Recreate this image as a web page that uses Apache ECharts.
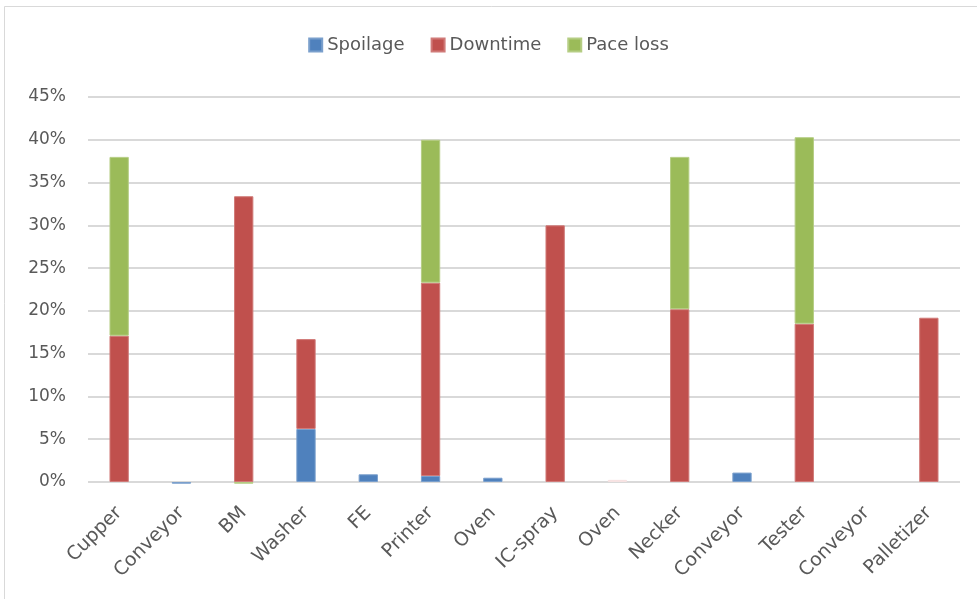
<!DOCTYPE html>
<html>
<head>
<meta charset="utf-8">
<script src="https://cdn.jsdelivr.net/npm/echarts@6/dist/echarts.min.js"></script>
<style>
  html, body { margin: 0; padding: 0; background: #fff; }
  #chart { width: 977px; height: 599px; }
</style>
</head>
<body>
<div id="chart"></div>
<script>
// machines along the line
const categories = ["Cupper", "Conveyor", "BM", "Washer", "FE", "Printer", "Oven",
  "IC-spray", "Oven", "Necker", "Conveyor", "Tester", "Conveyor", "Palletizer"];

// loss shares in percent (null = no bar)
const spoilage = [null, -0.2, null, 6.2, 0.9, 0.7, 0.5, null, null, null, 1.1, null, null, null];
const downtime = [17.1, null, 33.4, 10.5, null, 22.6, null, 30.0, 0.25, 20.2, null, 18.5, null, 19.2];
const paceLoss = [20.9, null, -0.2, null, null, 16.7, null, null, null, 17.8, null, 21.8, null, null];

const yTicks = [0, 5, 10, 15, 20, 25, 30, 35, 40, 45];

const font = "'DejaVu Sans', 'Open Sans', sans-serif";
const chart = echarts.init(document.getElementById("chart"));

function barSeries(name, data, color, border) {
  return {
    name: name,
    type: "bar",
    stack: "loss",
    barWidth: "31%",
    clip: false,
    data: data.map((v, i) => {
      if (v === null) return "-";
      // the second oven's downtime is drawn faded in the original
      if (name === "Downtime" && i === 8) {
        return { value: v, itemStyle: { color: "#f2d4d3", borderColor: "#f7e3e3" } };
      }
      return v;
    }),
    itemStyle: { color: color, borderColor: border, borderWidth: 1 },
  };
}

const option = {
  backgroundColor: "#fff",
  animation: false,
  graphic: [{
    type: "rect",
    shape: { x: 4.5, y: 6.5, width: 980, height: 620 },
    style: { fill: "none", stroke: "#d9d9d9", lineWidth: 1 },
    silent: true,
  }],
  legend: {
    top: 31,
    left: "center",
    itemWidth: 13,
    itemHeight: 13,
    itemGap: 26,
    icon: "rect",
    textStyle: { fontFamily: font, fontSize: 18, color: "#595959" },
    data: ["Spoilage", "Downtime", "Pace loss"],
  },
  grid: { left: 88, right: 17, top: 97, bottom: 117 },
  xAxis: {
    type: "category",
    data: categories,
    axisLine: { show: false },
    axisTick: { show: false },
    axisLabel: {
      interval: 0,
      rotate: 45,
      margin: 28,
      fontFamily: font,
      fontSize: 19,
      color: "#595959",
    },
  },
  yAxis: {
    type: "value",
    min: yTicks[0],
    max: yTicks[yTicks.length - 1],
    interval: 5,
    axisLine: { show: false },
    axisTick: { show: false },
    splitLine: { lineStyle: { color: "#d9d9d9", width: 2 } },
    axisLabel: {
      margin: 22,
      fontFamily: font,
      fontSize: 17,
      color: "#595959",
      formatter: (v) => v + "%",
    },
  },
  series: [
    barSeries("Spoilage", spoilage, "#4f81bd", "#7a9fcc"),
    barSeries("Downtime", downtime, "#c0504d", "#d07a78"),
    barSeries("Pace loss", paceLoss, "#9bbb59", "#b5cd84"),
  ],
};

chart.setOption(option);
</script>
</body>
</html>
